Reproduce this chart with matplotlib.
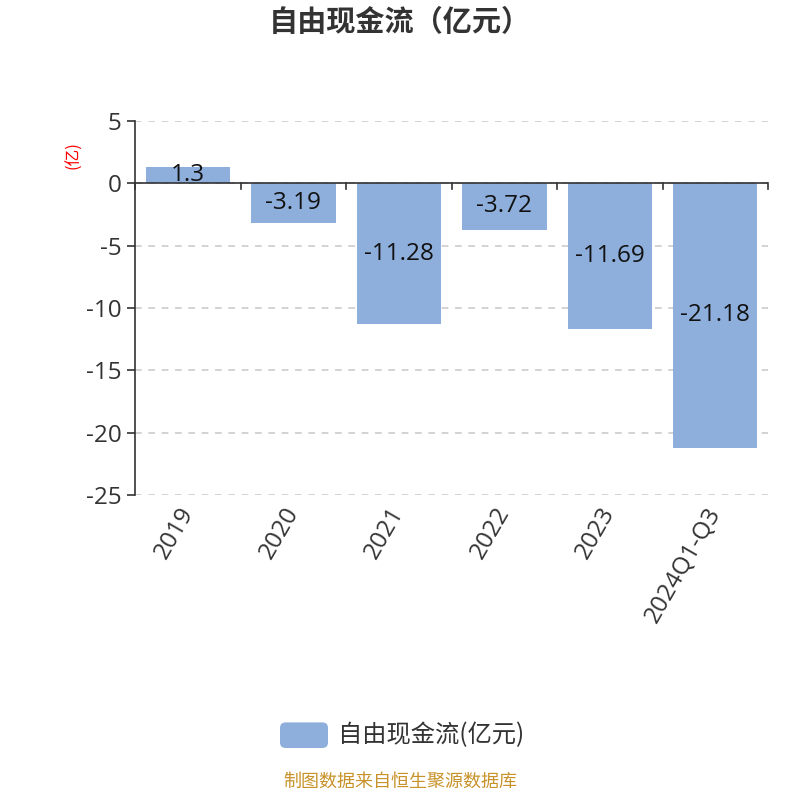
import matplotlib
matplotlib.use('Agg')
import matplotlib.pyplot as plt
from matplotlib.patches import FancyBboxPatch
import numpy as np

plt.rcParams['font.family'] = ['Open Sans', 'Noto Sans CJK SC', 'DejaVu Sans']
plt.rcParams['axes.unicode_minus'] = False

# data
categories = ['2019', '2020', '2021', '2022', '2023', '2024Q1-Q3']
values = [1.3, -3.19, -11.28, -3.72, -11.69, -21.18]
bar_color = '#8eaedb'
cjk = ['Noto Sans CJK SC', 'DejaVu Sans']

fig = plt.figure(figsize=(8, 8), dpi=100)
ax = fig.add_axes([0.169, 0.381, 0.791, 0.468])

x = np.arange(len(categories))
ax.bar(x, values, width=0.8, color=bar_color, zorder=2)

for xi, v in zip(x, values):
    ax.text(xi, v / 2, f'{v:g}', ha='center', va='center', fontsize=17.5, color='#111111', zorder=3)

ax.set_xlim(-0.5, len(categories) - 0.5)
ax.set_ylim(-25, 5)
ax.set_yticks(np.arange(-25, 6, 5))
ax.yaxis.grid(True, linestyle=(0, (4, 4)), color='#cccccc', linewidth=1.2, zorder=0)

for s in ['top', 'right', 'bottom']:
    ax.spines[s].set_visible(False)
ax.spines['left'].set_color('#333333')
ax.spines['left'].set_linewidth(1.2)
ax.axhline(0, color='#333333', linewidth=1.2, zorder=3)

# category boundary ticks on the zero line
for b in np.arange(-0.5, len(categories), 1.0):
    ax.plot([b, b], [0, -0.5], color='#333333', linewidth=1.2, clip_on=False, zorder=3)

ax.set_xticks(x)
ax.set_xticklabels(categories, rotation=60, ha='right', va='center', rotation_mode='anchor',
                   fontsize=17.5, color='#333333')
ax.tick_params(axis='x', length=0, pad=10)
ax.tick_params(axis='y', labelsize=17.5, labelcolor='#333333', color='#333333', length=6, width=1.2, pad=4)

fig.text(0.092, 0.806, '(亿)', rotation=90, color='red', fontsize=12, ha='center', va='center', family=cjk)
fig.text(0.5, 0.972, '自由现金流（亿元）', ha='center', va='center', fontsize=21, fontweight='bold',
         color='#333333', family=cjk)

# legend
patch = FancyBboxPatch((0.35, 0.065), 0.06, 0.032, boxstyle='round,pad=0,rounding_size=0.007',
                       transform=fig.transFigure, facecolor=bar_color, edgecolor='none')
fig.patches.append(patch)
fig.text(0.4225, 0.081, '自由现金流(亿元)', ha='left', va='center', fontsize=17.5, color='#333333', family=cjk)

fig.text(0.5, 0.012, '制图数据来自恒生聚源数据库', ha='center', va='bottom', fontsize=13, color='#c8922a', family=cjk)

fig.savefig('out.png', dpi=100)
